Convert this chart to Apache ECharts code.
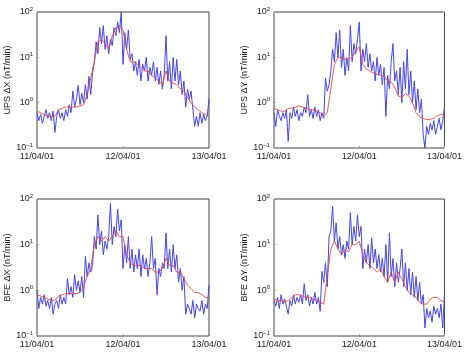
<!DOCTYPE html>
<html>
<head>
<meta charset="utf-8">
<script src="https://cdn.jsdelivr.net/npm/echarts@6/dist/echarts.min.js"></script>
<style>
  html, body { margin: 0; padding: 0; background: #fff; }
  #chart { width: 465px; height: 354px; }
</style>
</head>
<body>
<div id="chart"></div>
<script>
// time axis in hours from 11/04/01 00:00
const xTickLabels = ['11/04/01', '12/04/01', '13/04/01'];
const panelNames = ['UPS \u0394X (nT/min)', 'UPS \u0394Y (nT/min)', 'BFE \u0394X (nT/min)', 'BFE \u0394Y (nT/min)'];
const rawStep = 0.5;   // hours between raw samples (blue)
const avgStep = 1;     // hours between averaged samples (red)

// blue: raw values
const upsXRaw = [
  0.6, 0.4, 0.55, 0.35, 0.5, 0.7, 0.45, 0.6,
  0.4, 0.65, 0.22, 0.5, 0.7, 0.45, 0.6, 0.4,
  0.7, 0.5, 0.9, 0.6, 1.8, 0.8, 1.2, 2.4,
  0.9, 1.6, 1.0, 2.5, 1.2, 3.8, 1.5, 4.5,
  8, 22, 12, 45, 20, 50, 15, 30,
  12, 25, 18, 45, 30, 60, 35, 100,
  7, 35, 15, 40, 9, 12, 5, 8,
  4, 9, 3, 7, 5, 10, 3, 6,
  4, 8, 3, 6, 2.5, 5, 2, 4,
  30, 3, 8, 2, 10, 3, 9, 2.5,
  5, 1.5, 3, 0.8, 2, 1.2, 1.8, 0.7,
  0.3, 0.5, 0.3, 0.6, 0.35, 0.55, 0.4, 0.5,
  1.2
];
const upsYRaw = [
  0.6, 0.3, 0.7, 0.5, 0.4, 0.6, 0.45, 0.7,
  0.14, 0.6, 0.45, 0.8, 0.5, 0.7, 0.4, 0.6,
  0.5, 0.8, 0.6, 1.5, 0.5, 0.7, 0.45, 0.8,
  0.5, 0.7, 0.4, 0.6, 0.45, 3.5, 1.8, 2.5,
  5, 15, 8, 35, 10, 40, 6, 15,
  4, 10, 5, 50, 8, 20, 12, 25,
  60, 5, 15, 8, 20, 6, 12, 5,
  8, 3, 10, 4, 7, 2.5, 6, 0.5,
  4, 2, 8, 20, 3, 5, 1.5, 6,
  1, 8, 2, 15, 1.5, 5, 1, 3,
  0.7, 2, 0.6, 1.2, 0.2, 0.1, 0.3, 0.2,
  0.35, 0.25, 0.4, 0.2, 0.3, 0.45, 0.25, 0.4,
  0.8
];
const bfeXRaw = [
  1.0, 0.4, 0.7, 0.5, 0.8, 0.45, 0.6, 0.4,
  0.7, 0.3, 0.5, 0.6, 0.4, 0.8, 0.5, 0.7,
  0.5, 1.8, 0.8, 1.2, 0.7, 2.2, 1.0, 1.6,
  0.9, 2.0, 0.7, 5.5, 2.0, 4.0, 2.5, 3.5,
  15, 8, 45, 10, 20, 6, 12, 8,
  15, 80, 10, 25, 15, 60, 20, 35,
  3, 10, 4, 15, 3, 8, 2.5, 6,
  3, 8, 2, 6, 3, 5, 2, 4,
  15, 3, 5, 0.8, 3, 2, 4, 3,
  18, 3, 8, 2.5, 10, 3, 6, 1.5,
  3, 1, 2, 0.3, 0.5, 0.4, 0.3, 0.6,
  0.25, 0.5, 0.4, 0.35, 0.6, 0.3, 0.5, 0.4,
  1.3
];
const bfeYRaw = [
  0.6, 0.45, 0.7, 0.4, 0.8, 0.5, 0.65, 0.45,
  0.3, 0.6, 0.45, 0.8, 0.5, 0.7, 0.55, 0.8,
  0.5, 1.4, 0.6, 0.8, 0.45, 0.7, 0.5, 0.9,
  0.5, 0.7, 0.35, 2.6, 1.5, 4, 1.2, 15,
  20, 70, 12, 30, 8, 15, 6, 10,
  5, 12, 8, 50, 10, 25, 12, 45,
  15, 25, 3, 8, 4, 10, 3, 14,
  4, 8, 3, 6, 2.5, 5, 2, 10,
  1.5, 18, 2, 5, 1.2, 4, 1.5, 3,
  8, 1.2, 4, 1, 3, 0.8, 2.5, 0.7,
  2, 0.6, 1.5, 0.5, 0.8, 0.15, 0.4, 0.25,
  0.35, 0.2, 0.45, 0.3, 0.4, 0.25, 0.5, 0.15,
  0.8
];

// red: averaged values
const upsXAvg = [
  0.65, 0.6, 0.55, 0.5, 0.5, 0.5, 0.7, 0.75,
  0.8, 0.8, 0.8, 0.8, 0.85, 0.9, 1.5, 3.5,
  8, 22, 25, 20, 15, 30, 45, 50,
  40, 15, 8, 8, 7, 6, 5, 5,
  4, 3.5, 3, 2.5, 5, 3, 2.7, 2.5,
  2, 1.8, 1.3, 1, 0.8, 0.7, 0.6, 0.55,
  0.5
];
const upsYAvg = [
  0.75, 0.7, 0.65, 0.65, 0.75, 0.75, 0.8, 0.85,
  0.8, 0.75, 0.7, 0.7, 0.65, 0.6, 0.5, 0.6,
  2, 7, 10, 10, 9, 9, 10, 14,
  17, 7, 5.5, 5, 4.5, 4.2, 4, 3.8,
  3, 2.8, 2.2, 1.4, 1.3, 1.6, 1.4, 1,
  0.6, 0.48, 0.45, 0.42, 0.43, 0.45, 0.52, 0.55,
  0.55
];
const bfeXAvg = [
  0.8, 0.75, 0.7, 0.65, 0.6, 0.6, 0.75, 0.8,
  0.85, 0.85, 0.85, 0.85, 0.9, 1.2, 2, 3,
  10, 15, 12, 15, 12, 15, 20, 15,
  15, 6, 4, 3.5, 3.5, 3.5, 3, 3,
  3, 2.5, 2.5, 3, 5, 3.5, 3.5, 2.5,
  2.5, 1.8, 1.3, 1.1, 0.9, 0.9, 0.8, 0.7,
  0.7
];
const bfeYAvg = [
  0.65, 0.6, 0.6, 0.55, 0.6, 0.7, 0.8, 0.8,
  0.75, 0.7, 0.7, 0.65, 0.6, 0.55, 0.5, 2,
  8, 12, 8, 6, 8, 7, 10, 10,
  12, 6, 4, 3.5, 3, 2.5, 3, 2,
  1.5, 2.5, 1.5, 2.5, 1.8, 1.2, 0.9, 0.8,
  0.7, 0.55, 0.5, 0.5, 0.65, 0.7, 0.7, 0.6,
  0.55
];

const rawSeries = [upsXRaw, upsYRaw, bfeXRaw, bfeYRaw];
const avgSeries = [upsXAvg, upsYAvg, bfeXAvg, bfeYAvg];

const FONT = 'Liberation Sans';
const grids = [
  { left: 37, top: 12, width: 172, height: 136 },
  { left: 274, top: 12, width: 172, height: 136 },
  { left: 37, top: 199, width: 172, height: 137 },
  { left: 274, top: 199, width: 172, height: 137 }
];

const toPairs = (arr, step) => arr.map((v, i) => [i * step, v]);

const option = {
  backgroundColor: '#fff',
  animation: false,
  grid: grids.map(g => Object.assign({ show: true, borderColor: '#444', borderWidth: 1 }, g)),
  xAxis: grids.map((g, i) => ({
    gridIndex: i,
    type: 'value',
    min: 0,
    max: 48,
    interval: 24,
    axisLine: { show: false },
    axisTick: { show: true, inside: true, length: 2, lineStyle: { color: '#999' } },
    splitLine: { show: false },
    axisLabel: {
      margin: 4,
      fontFamily: FONT,
      fontSize: 9,
      color: '#222',
      formatter: v => xTickLabels[Math.round(v / 24)]
    }
  })),
  yAxis: grids.map((g, i) => ({
    gridIndex: i,
    type: 'log',
    logBase: 10,
    min: 0.1,
    max: 100,
    name: panelNames[i],
    nameLocation: 'middle',
    nameRotate: 90,
    nameGap: 25,
    nameTextStyle: { fontFamily: FONT, fontSize: 9, color: '#222' },
    axisLine: { show: false },
    axisTick: { show: true, inside: true, length: 2, lineStyle: { color: '#999' } },
    splitLine: { show: false },
    axisLabel: {
      margin: 4,
      fontFamily: FONT,
      fontSize: 9,
      color: '#222',
      formatter: v => {
        const e = Math.round(Math.log10(v));
        return '10{sup|' + (e < 0 ? '\u2212' : '') + Math.abs(e) + '}';
      },
      rich: {
        sup: { fontFamily: FONT, fontSize: 6, color: '#222', padding: [0, 0, 6, 0] }
      }
    }
  })),
  series: []
};

for (let i = 0; i < 4; i++) {
  option.series.push({
    type: 'line',
    xAxisIndex: i,
    yAxisIndex: i,
    data: toPairs(rawSeries[i], rawStep),
    showSymbol: false,
    lineStyle: { color: '#4545ec', width: 1 },
    z: 2
  });
  option.series.push({
    type: 'line',
    xAxisIndex: i,
    yAxisIndex: i,
    data: toPairs(avgSeries[i], avgStep),
    showSymbol: false,
    lineStyle: { color: '#e8453f', width: 0.9 },
    z: 3
  });
}

const myChart = echarts.init(document.getElementById('chart'));
myChart.setOption(option);
</script>
</body>
</html>
